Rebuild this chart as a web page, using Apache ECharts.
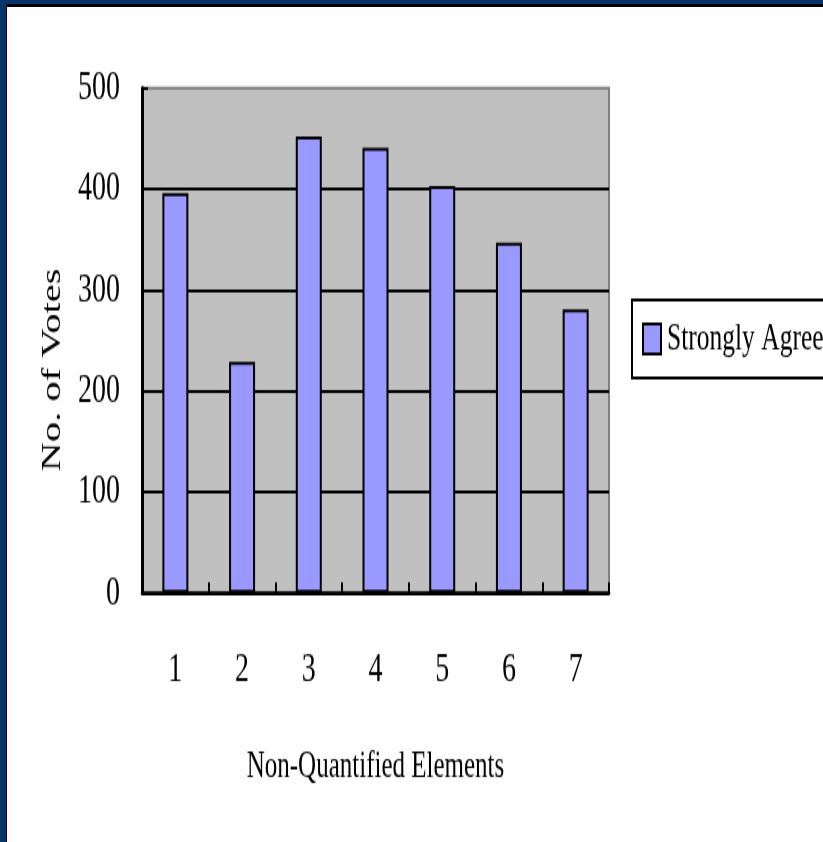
<!DOCTYPE html>
<html>
<head>
<meta charset="utf-8">
<script src="https://cdn.jsdelivr.net/npm/echarts@6/dist/echarts.min.js"></script>
<style>
html,body{margin:0;padding:0;width:823px;height:842px;overflow:hidden;background:#fff;}
#chart{position:absolute;left:0;top:0;width:823px;height:561.333px;transform:scaleY(1.5);transform-origin:0 0;}
.f{position:absolute;z-index:5;}
</style>
</head>
<body>
<div id="chart"></div>
<div class="f" style="left:0;top:0;width:823px;height:4px;background:#063468;"></div>
<div class="f" style="left:0;top:4px;width:823px;height:3px;background:#000;"></div>
<div class="f" style="left:0;top:0;width:6px;height:842px;background:#063468;"></div>
<div class="f" style="left:6px;top:4px;width:1px;height:838px;background:#000;"></div>
<script>
// Data
const categories = ['1', '2', '3', '4', '5', '6', '7'];
const seriesName = 'Strongly Agree';
const strongAgree = [396, 229, 452, 441, 403, 347, 281];
const yMin = 0, yMax = 500, yInterval = 100;
const xTitle = 'Non-Quantified Elements';
const yTitle = 'No. of Votes';

const FONT = '"Liberation Serif", "Times New Roman", serif';
const chart = echarts.init(document.getElementById('chart'), null, {renderer: 'canvas'});
chart.setOption({
  animation: false,
  backgroundColor: 'transparent',
  grid: {
    left: 142, top: 58.7, width: 467, height: 336.6,
    show: true, backgroundColor: '#C0C0C0', borderColor: '#808080', borderWidth: 2,
    outerBoundsMode: 'none'
  },
  legend: {
    left: 632, top: 200, orient: 'horizontal',
    icon: 'rect', itemWidth: 18, itemHeight: 20, itemGap: 8,
    padding: [13, 10, 13, 10],
    borderColor: '#000', borderWidth: 2, backgroundColor: '#fff',
    textStyle: {fontFamily: FONT, fontSize: 25.5, color: '#000', padding: [0, 0, 0, 1]},
    data: [seriesName]
  },
  xAxis: {
    type: 'category', data: categories,
    axisLine: {show: true, lineStyle: {color: '#000', width: 2.5}},
    axisTick: {show: true, inside: true, length: 7, lineStyle: {color: '#000', width: 2}},
    axisLabel: {margin: 37, fontFamily: FONT, fontSize: 28, color: '#000'},
    splitLine: {show: false},
    name: xTitle, nameLocation: 'middle', nameGap: 104,
    nameTextStyle: {fontFamily: FONT, fontSize: 25, color: '#000'}
  },
  yAxis: {
    type: 'value', min: yMin, max: yMax, interval: yInterval,
    axisLine: {show: true, lineStyle: {color: '#000', width: 3}},
    axisTick: {show: true, inside: true, length: 6, lineStyle: {color: '#000', width: 2}},
    axisLabel: {margin: 22, fontFamily: FONT, fontSize: 28, color: '#000'},
    splitLine: {show: true, showMaxLine: false, lineStyle: {color: '#000', width: 2}}
  },
  graphic: [{
    type: 'text', x: 52.5, y: 246.7, rotation: Math.PI / 2,
    style: {text: yTitle, fontFamily: FONT, fontSize: 27, fill: '#000', align: 'center', verticalAlign: 'middle'}
  }],
  series: [{
    name: seriesName, type: 'bar', data: strongAgree, barWidth: 26,
    itemStyle: {color: '#9999FF', borderColor: '#000', borderWidth: 2}
  }]
});
</script>
</body>
</html>
